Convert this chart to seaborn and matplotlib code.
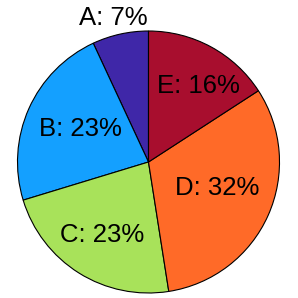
import numpy as np
import matplotlib
matplotlib.use('Agg')
import matplotlib.pyplot as plt
import seaborn as sns

sns.set_theme(style="white")
plt.rcParams['font.family'] = ['Liberation Sans', 'DejaVu Sans']

# Data
labels = ['A', 'B', 'C', 'D', 'E']
values = [7, 23, 23, 32, 16]
colors = ['#3f27a8', '#14a0ff', '#a8e25a', '#ff6a28', '#a80e2e']

# label placement: distance from centre (fraction of radius) and angle nudge (deg)
label_dist = [1.15, 0.59, 0.645, 0.555, 0.71]
label_nudge = [1.2, -3.6, -1.0, 4.8, -4.0]

fig = plt.figure(figsize=(2.98, 2.98), dpi=100)
ax = fig.add_axes([0, 0, 1, 1])

wedges, _ = ax.pie(values, colors=colors, startangle=90, counterclock=True,
                   wedgeprops=dict(edgecolor='black', linewidth=0.8))

for w, lab, v, d, n in zip(wedges, labels, values, label_dist, label_nudge):
    mid = np.deg2rad((w.theta1 + w.theta2) / 2 + n)
    ax.text(d * np.cos(mid), d * np.sin(mid), f'{lab}: {v}%',
            ha='center', va='center_baseline', fontsize=18.5, color='black')

r = 131.0
ax.set_xlim(-148.5 / r, (298 - 148.5) / r)
ax.set_ylim(-136 / r, 162 / r)
ax.set_aspect('equal')
ax.axis('off')

fig.savefig('out.png', dpi=100)
plt.close(fig)
